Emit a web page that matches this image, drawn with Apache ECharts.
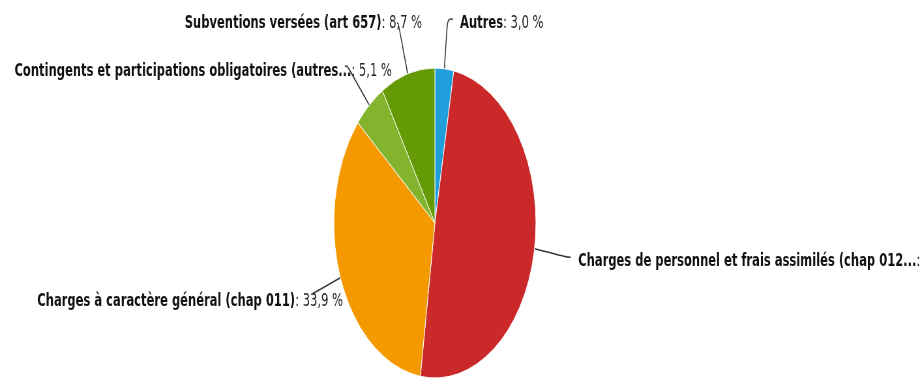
<!DOCTYPE html>
<html>
<head>
<meta charset="utf-8">
<script src="https://cdn.jsdelivr.net/npm/echarts@6/dist/echarts.min.js"></script>
<style>
  html, body { margin: 0; padding: 0; background: #fff; }
  #frame { width: 924px; height: 378px; overflow: hidden; position: relative; }
  /* the chart is drawn wide and squeezed horizontally, giving the oval pie */
  #chart { width: 1600px; height: 378px; transform: scaleX(0.652); transform-origin: 0 0; }
</style>
</head>
<body>
<div id="frame"><div id="chart"></div></div>
<script>
// Budget breakdown (share of spending, %)
const categories = [
  'Autres',
  'Charges de personnel et frais assimilés (chap 012...',
  'Charges à caractère général (chap 011)',
  'Contingents et participations obligatoires (autres...',
  'Subventions versées (art 657)'
];
const shares = [3.0, 49.3, 33.9, 5.1, 8.7];
const colors = ['#219fdd', '#cb282a', '#f49a00', '#84b42e', '#649a05'];

// label connector tuning per slice: length, length2, gap to text, downward text shift
const connectors = [
  { len: 50,   len2: 8.5, gap: 10.7,  shift: 8 },
  { len: 51,   len2: 5,   gap: 11.5,  shift: 8 },
  { len: 43,   len2: 2,   gap: -46.3, shift: 16 },
  { len: 51.6, len2: 4,   gap: -72.3, shift: 10 },
  { len: 52.7, len2: 2,   gap: -38.4, shift: 0 }
];

function pct(v) {
  return v.toFixed(1).replace('.', ',') + ' %';
}

const data = categories.map(function (name, i) {
  const c = connectors[i];
  return {
    name: name,
    value: shares[i],
    itemStyle: { color: colors[i] },
    label: { distanceToLabelLine: c.gap, padding: [c.shift, 0, 0, 0] },
    labelLine: { length: c.len, length2: c.len2 }
  };
});

const chart = echarts.init(document.getElementById('chart'), null, { renderer: 'canvas' });
chart.setOption({
  animation: false,
  series: [{
    type: 'pie',
    center: [667, 223],
    radius: 155,
    startAngle: 90,
    clockwise: true,
    avoidLabelOverlap: false,
    data: data,
    itemStyle: { borderColor: '#ffffff', borderWidth: 1 },
    label: {
      show: true,
      position: 'outside',
      alignTo: 'none',
      overflow: 'none',
      formatter: function (p) {
        return '{n|' + p.name + '}{v|: ' + pct(p.value) + '}';
      },
      rich: {
        n: { fontFamily: 'DejaVu Sans', fontWeight: 'bold', fontSize: 17.7, color: '#111' },
        v: { fontFamily: 'DejaVu Sans', fontWeight: 'normal', fontSize: 17.7, color: '#222' }
      }
    },
    labelLine: {
      show: true,
      smooth: 0.4,
      lineStyle: { color: '#333', width: 1.5 }
    },
    emphasis: { disabled: true }
  }]
});
</script>
</body>
</html>
